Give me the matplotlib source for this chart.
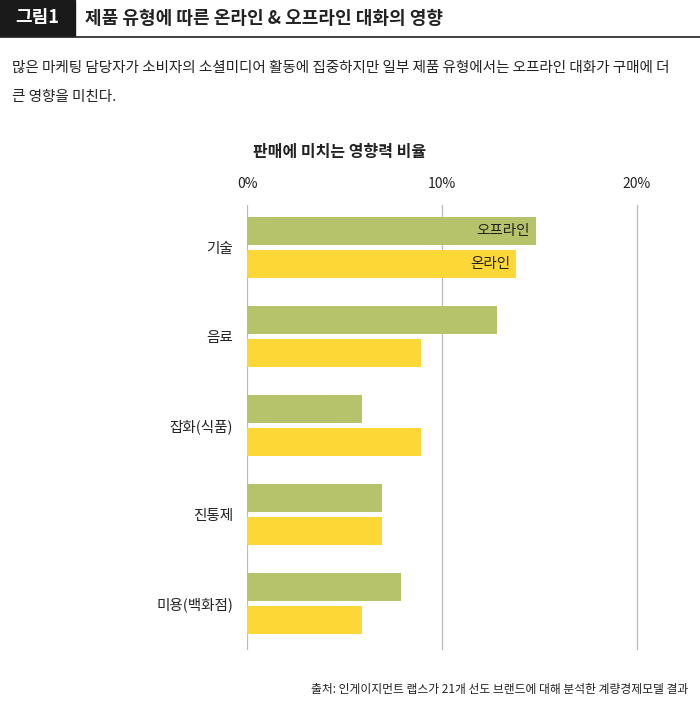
import matplotlib
matplotlib.use('Agg')
import matplotlib.pyplot as plt
from matplotlib.patches import Rectangle

plt.rcParams['font.family'] = ['Noto Sans CJK JP', 'Noto Sans CJK KR', 'Noto Sans CJK SC',
                               'Noto Sans CJK TC', 'DejaVu Sans']

categories = ['기술', '음료', '잡화(식품)', '진통제', '미용(백화점)']
offline = [14.8, 12.8, 5.9, 6.9, 7.9]
online = [13.8, 8.9, 8.9, 6.9, 5.9]
ticks = [0, 10, 20]
tick_labels = ['0%', '10%', '20%']

GREEN = '#b7c36a'
YELLOW = '#fdd736'

fig = plt.figure(figsize=(7, 7.1), dpi=100)

# header
fig.patches.append(Rectangle((0, 1 - 36/710), 75/700, 36/710, transform=fig.transFigure,
                             color='#1a1a1a', zorder=0))
fig.text(37/700, 1 - 18/710, '그림1', color='white', fontsize=13, fontweight='bold',
         ha='center', va='center')
fig.text(85/700, 1 - 18/710, '제품 유형에 따른 온라인 & 오프라인 대화의 영향', fontsize=13,
         fontweight='bold', va='center', color='#222222')
fig.add_artist(plt.Line2D([0, 1], [1 - 37/710, 1 - 37/710], transform=fig.transFigure,
                          color='#222222', lw=1.2))
fig.text(12/700, 1 - 68/710,
         '많은 마케팅 담당자가 소비자의 소셜미디어 활동에 집중하지만 일부 제품 유형에서는 오프라인 대화가 구매에 더',
         fontsize=10.5, va='center', color='#222222')
fig.text(12/700, 1 - 97/710, '큰 영향을 미친다.', fontsize=10.5, va='center', color='#222222')
fig.text(340/700, 1 - 152/710, '판매에 미치는 영향력 비율', fontsize=11.5, fontweight='bold',
         ha='center', va='center', color='#222222')
fig.text(688/700, 1 - 690/710, '출처: 인게이지먼트 랩스가 21개 선도 브랜드에 대해 분석한 계량경제모델 결과',
         fontsize=8.5, ha='right', va='center', color='#222222')

ax = fig.add_axes([247/700, 60/710, 413/700, 445/710])
pos = list(range(len(categories)))
off = 0.185
ax.barh([p - off for p in pos], offline, height=0.31, color=GREEN, zorder=2)
ax.barh([p + off for p in pos], online, height=0.31, color=YELLOW, zorder=2)
ax.text(offline[0] - 0.3, -off, '오프라인', ha='right', va='center', fontsize=10.5, color='#222222', zorder=3)
ax.text(online[0] - 0.3, off, '온라인', ha='right', va='center', fontsize=10.5, color='#222222', zorder=3)

ax.set_xlim(0, 413/19.5)
ax.set_ylim(4.52, -0.48)
ax.set_yticks(pos)
ax.set_yticklabels(categories, fontsize=10.5, color='#222222')
ax.set_xticks(ticks)
ax.set_xticklabels(tick_labels, fontsize=10, color='#222222')
ax.xaxis.tick_top()
ax.tick_params(length=0, pad=10)
for t in ticks:
    ax.axvline(t, color='#bbbbbb', lw=0.9, zorder=1)
for s in ax.spines.values():
    s.set_visible(False)

fig.savefig('out.png', dpi=100)
